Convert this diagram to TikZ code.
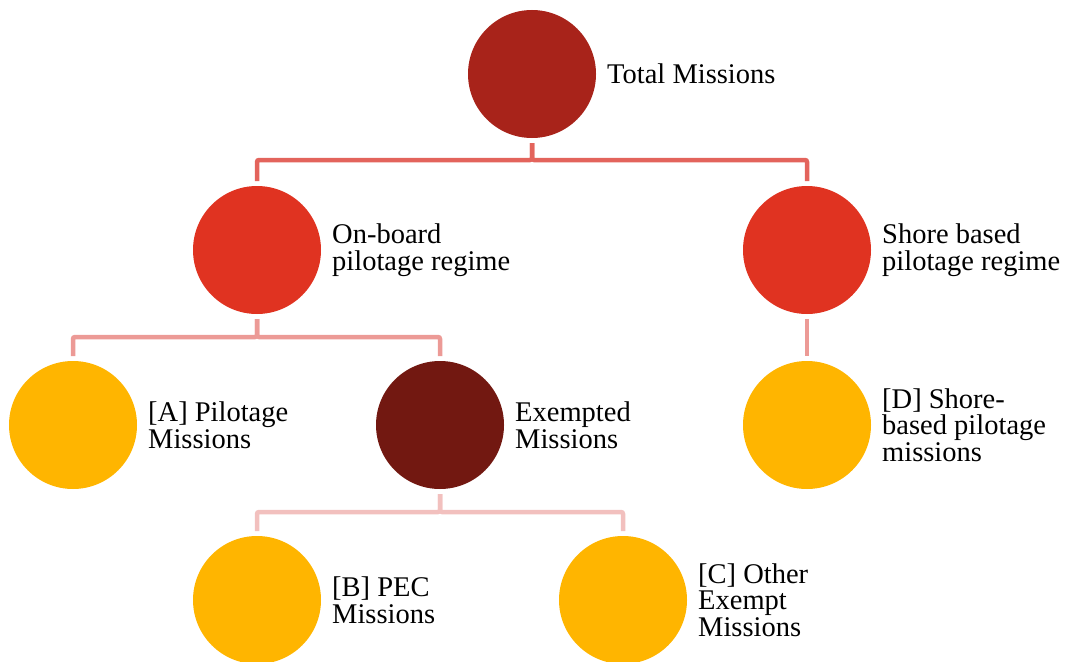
\documentclass[tikz,border=0pt]{standalone}
\usepackage{fontspec}
\setmainfont{Liberation Serif}
\usetikzlibrary{positioning}
\definecolor{rootred}{RGB}{168,35,26}
\definecolor{regimered}{RGB}{224,51,33}
\definecolor{exemptbrown}{RGB}{114,24,17}
\definecolor{missionyellow}{RGB}{255,181,0}
\definecolor{linkone}{RGB}{227,100,92}
\definecolor{linktwo}{RGB}{236,154,150}
\definecolor{linkthree}{RGB}{242,192,190}

\begin{document}
\begin{tikzpicture}[x=1pt, y=-1pt,
    dot/.style={circle, minimum size=128pt, inner sep=0pt, outer sep=5pt},
    dotroot/.style={dot, fill=rootred},
    dotreg/.style={dot, fill=regimered},
    dotex/.style={dot, fill=exemptbrown},
    dotmis/.style={dot, fill=missionyellow},
    lbl/.style={align=left, inner sep=0pt, font=\fontsize{28.5}{26.5}\selectfont},
    link/.style={line width=4.5pt, rounded corners=2pt}
]
    \useasboundingbox (0,0) rectangle (1065,661);

    % circles
    \node[dotroot] (total)    at (532,74)  {};
    \node[dotreg]  (onboard)  at (257,250) {};
    \node[dotreg]  (shore)    at (807,250) {};
    \node[dotmis]  (pilot)    at (73,425)  {};
    \node[dotex]   (exempt)   at (440,425) {};
    \node[dotmis]  (shoremis) at (807,425) {};
    \node[dotmis]  (pec)      at (257,600) {};
    \node[dotmis]  (other)    at (623,600) {};

    % labels
    \node[lbl, right=6pt of total]    (totallbl)    {Total Missions};
    \node[lbl, right=6pt of onboard]  (onboardlbl)  {On-board\\pilotage regime};
    \node[lbl, right=6pt of shore]    (shorelbl)    {Shore based\\pilotage regime};
    \node[lbl, right=6pt of pilot]    (pilotlbl)    {[A] Pilotage\\Missions};
    \node[lbl, right=6pt of exempt]   (exemptlbl)   {Exempted\\Missions};
    \node[lbl, right=6pt of shoremis] (shoremislbl) {[D] Shore-\\based pilotage\\missions};
    \node[lbl, right=6pt of pec]      (peclbl)      {[B] PEC\\Missions};
    \node[lbl, right=6pt of other]    (otherlbl)    {[C] Other\\Exempt\\Missions};

    % links
    \draw[link, linkone] (total.south) -- ++(0,17) -| (onboard.north);
    \draw[link, linkone] (total.south) -- ++(0,17) -| (shore.north);
    \draw[link, linktwo] (onboard.south) -- ++(0,18) -| (pilot.north);
    \draw[link, linktwo] (onboard.south) -- ++(0,18) -| (exempt.north);
    \draw[link, linktwo] (shore.south) -- (shoremis.north);
    \draw[link, linkthree] (exempt.south) -- ++(0,18) -| (pec.north);
    \draw[link, linkthree] (exempt.south) -- ++(0,18) -| (other.north);
\end{tikzpicture}
\end{document}
